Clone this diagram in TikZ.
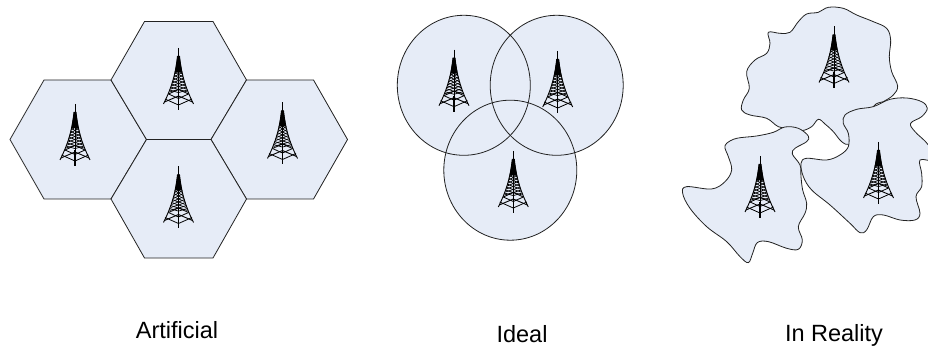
\documentclass[tikz,border=0pt]{standalone}
\usepackage{fontspec}
\setmainfont{Liberation Sans}
\definecolor{cellfill}{HTML}{E6ECF7}
\definecolor{celledge}{HTML}{222222}
\tikzset{
  cell/.style={draw=celledge,fill=cellfill,line width=0.8pt,line join=round},
  ring/.style={draw=celledge,line width=0.8pt},
  lab/.style={font=\fontsize{23.5}{26}\selectfont,text=black,inner sep=0pt,anchor=base},
  pics/tower/.style={code={
    % mast
    \draw[line width=0.7pt] (0,0) -- (0,10);
    \fill[black] (-1,8) -- (1,8) -- (3.6,24) -- (-3.6,24) -- cycle;
    % legs
    \draw[line width=0.9pt] (-1,8) .. controls (-3,28) and (-8,42) .. (-15,56);
    \draw[line width=0.9pt] (1,8) .. controls (3,28) and (8,42) .. (15,56);
    % lattice
    \foreach \y/\w in {24/3.8,27/4.5,30/5.2,33/6,36/6.9,39/7.8,42/8.9}{
      \draw[line width=0.7pt] (-\w,\y) -- (0,\y+2.6) -- (\w,\y);
      \draw[line width=0.7pt] (-\w,\y+2) -- (0,\y-0.6) -- (\w,\y+2);
    }
    % base
    \draw[line width=0.8pt] (-10,46) -- (0,50.5) -- (10,46);
    \draw[line width=0.8pt] (-10,46) -- (0,41.5) -- (10,46);
    \draw[line width=0.9pt] (-14,54) -- (0,48) -- (14,54);
    \draw[line width=0.8pt] (-13.5,51) -- (0,57) -- (13.5,51);
    \draw[line width=1.1pt] (0,46) -- (0,62);
    \draw[line width=0.5pt] (0,24) -- (0,46);
  }}
}
\begin{document}
\begin{tikzpicture}[x=1pt,y=-1pt]
\useasboundingbox (0,0) rectangle (928,347);
% hexagons
\draw[cell] (44,80) -- (111,80) -- (146.5,139.5) -- (111,199) -- (44,199) -- (10,139.5) -- cycle;
\draw[cell] (144.5,21.5) -- (213,21.5) -- (246.5,80) -- (211,139.5) -- (146.5,139.5) -- (111,80) -- cycle;
\draw[cell] (246.5,80) -- (313.5,80) -- (347.5,139.5) -- (313.5,199) -- (246.5,199) -- (211,139.5) -- cycle;
\draw[cell] (146.5,139.5) -- (211,139.5) -- (246.5,199) -- (213,258) -- (144.5,258) -- (111,199) -- cycle;
% circles
\fill[cellfill] (463.8,85.3) ellipse [x radius=66.5,y radius=70];
\fill[cellfill] (556.7,85.3) ellipse [x radius=66.5,y radius=70];
\fill[cellfill] (510.3,170.2) ellipse [x radius=66.5,y radius=70];
\draw[ring] (463.8,85.3) ellipse [x radius=66.5,y radius=70];
\draw[ring] (556.7,85.3) ellipse [x radius=66.5,y radius=70];
\draw[ring] (510.3,170.2) ellipse [x radius=66.5,y radius=70];
% blobs (3x crop coordinates with origin at x=670)
\begin{scope}[shift={(670,0)},x=0.3333pt,y=-0.3333pt]
\draw[cell] plot[smooth cycle,tension=0.6] coordinates {(295,97)(330,100)(360,97)(385,65)(410,42)(445,37)(475,22)(520,25)(560,45)(610,65)(650,85)(662,120)(658,170)(665,215)(683,258)(670,285)(640,305)(610,320)(570,400)(540,433)(515,425)(490,395)(465,372)(445,358)(425,380)(395,392)(360,385)(325,380)(290,355)(240,345)(215,330)(220,300)(238,265)(230,215)(255,180)(290,160)(300,130)};
\draw[cell] plot[smooth cycle,tension=0.6] coordinates {(525,345)(560,328)(610,320)(660,298)(710,294)(755,305)(772,325)(755,350)(722,370)(735,395)(775,435)(790,480)(750,480)(755,520)(755,560)(738,590)(750,640)(735,660)(690,660)(640,645)(610,650)(590,690)(570,698)(540,670)(480,615)(425,570)(400,530)(393,490)(410,475)(470,480)(510,465)(535,440)(535,400)(520,370)};
\draw[cell] plot[smooth cycle,tension=0.6] coordinates {(170,430)(200,415)(260,408)(310,397)(345,381)(385,385)(415,408)(410,425)(375,445)(367,462)(390,495)(393,530)(398,570)(410,610)(405,640)(385,680)(397,720)(385,748)(350,745)(295,725)(262,728)(248,760)(235,788)(210,770)(170,725)(110,680)(60,625)(38,580)(50,560)(125,567)(165,545)(185,510)(175,470)(165,445)};
\end{scope}
% towers
\foreach \x/\y in {178.5/48,75/104,282.5/102.5,178.5/166.5,454/49.7,557.7/51,513.3/151,834/26.5,760/156,878.5/142}{
  \pic at (\x,\y) {tower};
}
% labels
\node[lab] (artificial) at (177,338) {Artificial};
\node[lab] (ideal) at (522,342) {Ideal};
\node[lab] (reality) at (834,341.7) {In Reality};
\end{tikzpicture}
\end{document}
